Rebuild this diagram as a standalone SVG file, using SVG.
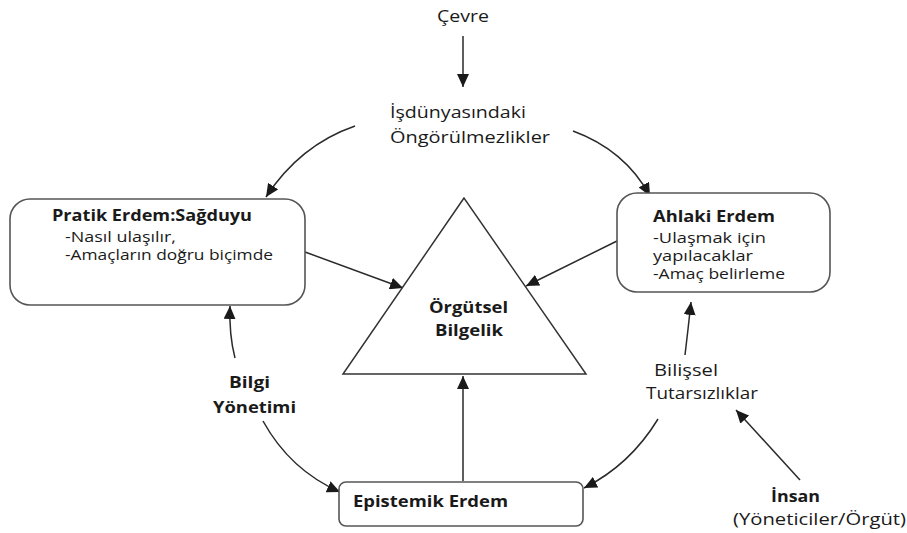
<svg xmlns="http://www.w3.org/2000/svg" width="907" height="533" viewBox="0 0 907 533">
<defs>
<marker id="ah" markerUnits="userSpaceOnUse" markerWidth="14" markerHeight="12" refX="13" refY="6" orient="auto">
<path d="M0,0 L13,6 L0,12 Z" fill="#1a1a1a"/>
</marker>
<style>
.box{fill:#fff;stroke:#555;stroke-width:1.6}
.edge{fill:none;stroke:#2a2a2a;stroke-width:1.5;marker-end:url(#ah)}
text{font-family:"Open Sans","Noto Sans","Liberation Sans",sans-serif;fill:#1a1a1a}
.r{font-size:15.5px}
.s{font-size:14px}
.b{font-size:16px;font-weight:bold}
</style>
</defs>
<rect width="907" height="533" fill="#fff"/>
<g id="connectors">
<path class="edge" d="M463,36 L463,87"/>
<path class="edge" d="M355,126 Q300,145 266,197"/>
<path class="edge" d="M573,131 Q625,150 650,196"/>
<path class="edge" d="M305,252 L403,288"/>
<path class="edge" d="M617,241 L526,286"/>
<path class="edge" d="M463,481 L463,376"/>
<path class="edge" d="M235,358 Q229,335 230,306"/>
<path class="edge" d="M685,355 Q688,330 691,302"/>
<path class="edge" d="M263,421 Q290,470 340,492"/>
<path class="edge" d="M658,419 Q630,465 584,488"/>
<path class="edge" d="M800,480 L736,410"/>
</g>
<g id="cevre"><text class="r" x="437" y="22" textLength="52" lengthAdjust="spacingAndGlyphs">Çevre</text></g>
<g id="isdunyasi">
<text class="r" x="390" y="118" textLength="136" lengthAdjust="spacingAndGlyphs">İşdünyasındaki</text>
<text class="r" x="390" y="143" textLength="160" lengthAdjust="spacingAndGlyphs">Öngörülmezlikler</text>
</g>
<g id="pratik">
<rect class="box" x="10" y="199" width="295" height="106" rx="20"/>
<text class="b" x="52" y="221" textLength="200" lengthAdjust="spacingAndGlyphs">Pratik Erdem:Sağduyu</text>
<text class="s" x="65" y="242" textLength="111" lengthAdjust="spacingAndGlyphs">-Nasıl ulaşılır,</text>
<text class="s" x="65" y="260" textLength="208" lengthAdjust="spacingAndGlyphs">-Amaçların doğru biçimde</text>
</g>
<g id="ahlaki">
<rect class="box" x="617" y="193" width="213" height="99" rx="20"/>
<text class="b" x="653" y="222" textLength="122" lengthAdjust="spacingAndGlyphs">Ahlaki Erdem</text>
<text class="s" x="653" y="243" textLength="113" lengthAdjust="spacingAndGlyphs">-Ulaşmak için</text>
<text class="s" x="653" y="261" textLength="100" lengthAdjust="spacingAndGlyphs">yapılacaklar</text>
<text class="s" x="653" y="279" textLength="132" lengthAdjust="spacingAndGlyphs">-Amaç belirleme</text>
</g>
<g id="orgutsel">
<polygon points="464,198 343,374 586,374" fill="#fff" stroke="#333" stroke-width="1.5"/>
<text class="b" x="429" y="313" textLength="79" lengthAdjust="spacingAndGlyphs">Örgütsel</text>
<text class="b" x="435" y="336" textLength="68" lengthAdjust="spacingAndGlyphs">Bilgelik</text>
</g>
<g id="epistemik">
<rect class="box" x="339" y="482" width="244" height="44" rx="7"/>
<text class="b" x="353" y="507" textLength="155" lengthAdjust="spacingAndGlyphs">Epistemik Erdem</text>
</g>
<g id="bilgi">
<text class="b" x="229" y="388" textLength="41" lengthAdjust="spacingAndGlyphs">Bilgi</text>
<text class="b" x="213" y="413" textLength="83" lengthAdjust="spacingAndGlyphs">Yönetimi</text>
</g>
<g id="bilissel">
<text class="r" x="654" y="376" textLength="64" lengthAdjust="spacingAndGlyphs">Bilişsel</text>
<text class="r" x="646" y="399" textLength="112" lengthAdjust="spacingAndGlyphs">Tutarsızlıklar</text>
</g>
<g id="insan">
<text class="b" x="771" y="502" textLength="49" lengthAdjust="spacingAndGlyphs">İnsan</text>
<text class="r" x="733" y="525" textLength="173" lengthAdjust="spacingAndGlyphs">(Yöneticiler/Örgüt)</text>
</g>
</svg>
